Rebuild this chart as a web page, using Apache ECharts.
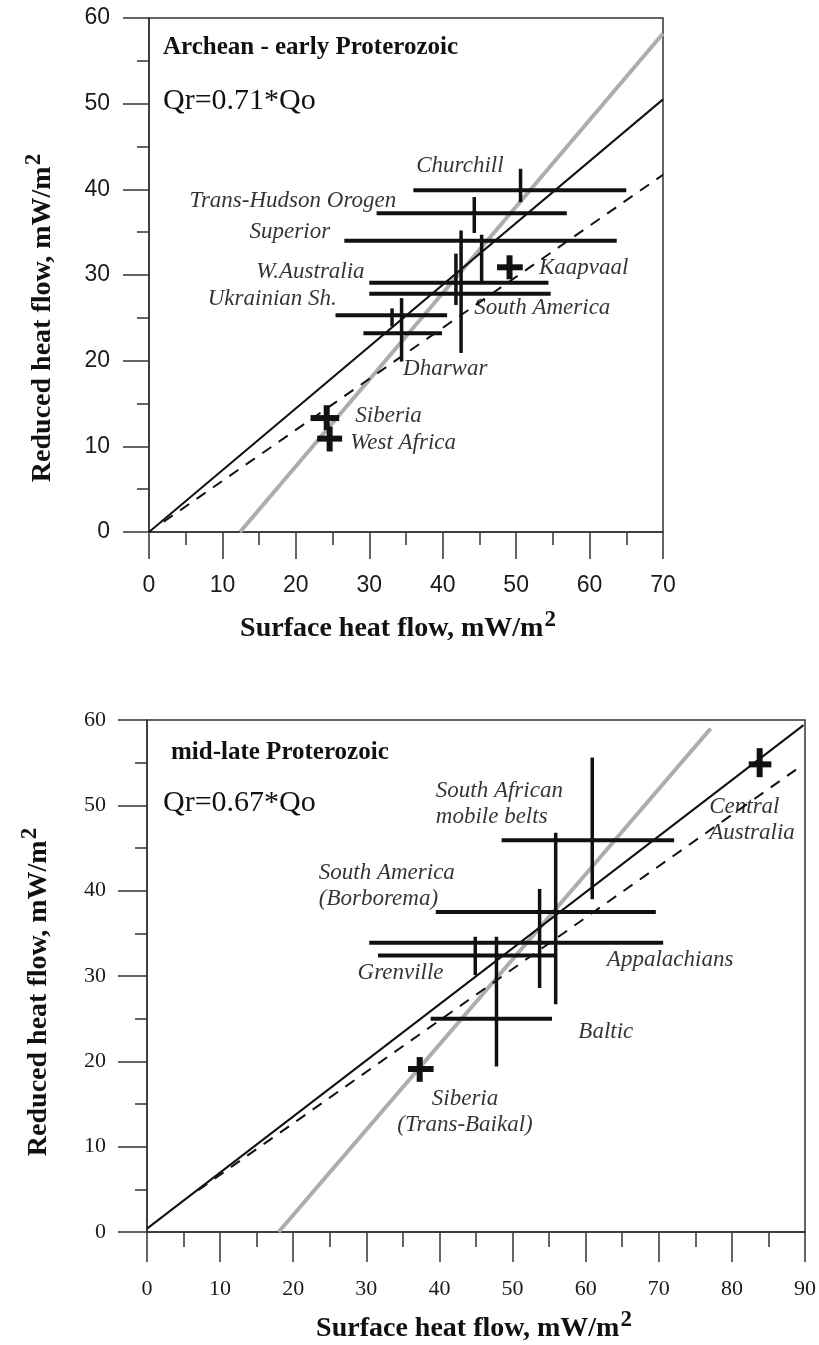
<!DOCTYPE html>
<html>
<head>
<meta charset="utf-8">
<title>Reduced vs surface heat flow</title>
<script src="https://cdn.jsdelivr.net/npm/echarts/dist/echarts.min.js"></script>
<style>
  html, body { margin: 0; padding: 0; background: #fff; }
  #chart { width: 819px; height: 1345px; }
</style>
</head>
<body>
<div id="chart"></div>
<script>
// ---- upper panel: Archean - early Proterozoic ----
var upNames   = ['Churchill', 'Trans-Hudson Orogen', 'Superior', 'W.Australia', 'South America', 'Kaapvaal', 'Ukrainian Sh.', 'Dharwar', 'Siberia', 'West Africa'];
var upQo      = [50.6, 44.3, 45.3, 41.8, 42.5, 49.1, 33.1, 34.4, 24.2, 24.6];
var upQr      = [39.9, 37.2, 34.0, 29.1, 27.8, 30.9, 25.3, 23.2, 13.3, 10.9];
var upQoMin   = [36.0, 31.0, 26.6, 30.0, 30.0, 47.4, 25.4, 29.2, 22.0, 22.9];
var upQoMax   = [65.0, 56.9, 63.7, 54.4, 54.7, 50.9, 40.6, 39.9, 25.9, 26.3];
var upQrMin   = [38.5, 34.9, 29.2, 26.5, 20.9, 29.5, 24.0, 19.9, 11.9, 9.4];
var upQrMax   = [42.4, 39.1, 34.7, 32.5, 35.2, 32.3, 26.1, 27.3, 14.8, 12.3];
// where each name is written (data units)
var upLabelQo = [36.4, 5.5, 13.7, 14.6, 44.3, 53.1, 8.0, 34.6, 28.1, 27.4];
var upLabelQr = [42.7, 38.6, 35.0, 30.4, 26.1, 30.8, 27.2, 19.0, 13.5, 10.4];
var upGray = [[12.4, 0], [70, 58.2]];   // Qr = Qo - const
var upFit  = [[0, 0], [70, 50.5]];      // Qr = 0.71*Qo
var upDash = [[2, 1.2], [70, 41.7]];

// ---- lower panel: mid-late Proterozoic ----
var loNames   = ['Central\nAustralia', 'South African\nmobile belts', 'South America\n(Borborema)', 'Appalachians', 'Grenville', 'Baltic', 'Siberia\n(Trans-Baikal)'];
var loQo      = [83.8, 60.9, 55.9, 53.7, 44.9, 47.8, 37.3];
var loQr      = [54.8, 45.9, 37.5, 33.9, 32.4, 25.0, 19.1];
var loQoMin   = [82.3, 48.5, 39.5, 30.4, 31.6, 38.8, 35.7];
var loQoMax   = [85.4, 72.1, 69.6, 70.6, 55.9, 55.4, 39.2];
var loQrMin   = [53.3, 39.0, 26.7, 28.6, 30.1, 19.4, 17.6];
var loQrMax   = [56.7, 55.6, 46.8, 40.2, 34.6, 34.6, 20.5];
var loLabelQo = [76.9, 39.5, 23.5, 62.9, 28.8, 59.0, 43.5];
var loLabelQr = [48.3, 50.2, 40.5, 31.9, 30.4, 23.4, 14.1];
var loGray = [[18, 0], [77.1, 59]];
var loFit  = [[0, 0.4], [89.8, 59.4]];  // Qr = 0.67*Qo
var loDash = [[7, 4.9], [88.8, 54.2]];

var upTicks = [0, 70, 10];
var loTicks = [0, 90, 10];
var qrTicks = [0, 60, 10];

var SERIF = '"Liberation Serif", "Times New Roman", serif';
var SANS = '"Liberation Sans", Arial, sans-serif';
var INK = '#111';

var myChart = echarts.init(document.getElementById('chart'));

function crossData(qo, qr, qoMin, qoMax, qrMin, qrMax) {
    return qo.map(function (v, i) {
        return [v, qr[i], qoMin[i], qoMax[i], qrMin[i], qrMax[i]];
    });
}

function renderCross(params, api) {
    var y = api.value(1), x = api.value(0);
    var l = api.coord([api.value(2), y]);
    var r = api.coord([api.value(3), y]);
    var b = api.coord([x, api.value(4)]);
    var t = api.coord([x, api.value(5)]);
    var small = (api.value(3) - api.value(2)) < 5;
    return {
        type: 'group',
        children: [
            { type: 'line', shape: { x1: l[0], y1: l[1], x2: r[0], y2: r[1] }, style: { stroke: INK, lineWidth: small ? 6 : 4 } },
            { type: 'line', shape: { x1: b[0], y1: b[1], x2: t[0], y2: t[1] }, style: { stroke: INK, lineWidth: small ? 6 : 3.5 } }
        ]
    };
}

function labelData(names, qo, qr) {
    return names.map(function (n, i) {
        var centred = n.indexOf('Trans-Baikal') >= 0;
        return {
            value: [qo[i], qr[i]],
            label: { formatter: n, position: centred ? 'inside' : 'right', distance: 0, align: centred ? 'center' : 'left' }
        };
    });
}

function valueAxis(idx, ticks, font, size, margin, tickLen, minorLen) {
    return {
        type: 'value',
        gridIndex: idx,
        min: ticks[0], max: ticks[1], interval: ticks[2],
        splitLine: { show: false },
        axisLine: { show: true, onZero: false, lineStyle: { color: '#333', width: 1.5 } },
        axisTick: { show: true, inside: false, length: tickLen, lineStyle: { color: '#333', width: 1.5 } },
        minorTick: { show: true, splitNumber: 2, length: minorLen, lineStyle: { color: '#333', width: 1.5 } },
        axisLabel: { color: '#1a1a1a', fontFamily: font, fontSize: size, margin: margin, showMinLabel: true, showMaxLabel: true }
    };
}

function lineSeries(idx, data, color, width, type) {
    return {
        type: 'line', xAxisIndex: idx, yAxisIndex: idx, data: data,
        showSymbol: false, symbol: 'none', silent: true,
        lineStyle: { color: color, width: width, type: type || 'solid' },
        z: 2
    };
}

// axis title with a raised "2" (mW/m2)
function titleText(text, x, y, rot) {
    return {
        type: 'text', x: x, y: y, rotation: rot || 0, z: 10,
        style: {
            text: '{a|' + text + '}{s|2}',
            fill: '#111',
            fontFamily: SERIF, fontWeight: 'bold', fontSize: 28,
            align: 'center', verticalAlign: 'middle',
            rich: {
                a: { fontFamily: SERIF, fontWeight: 'bold', fontSize: 28, lineHeight: 34, verticalAlign: 'bottom', fill: '#111' },
                s: { fontFamily: SERIF, fontWeight: 'bold', fontSize: 23, lineHeight: 23, padding: [0, 0, 11, 1], verticalAlign: 'bottom', fill: '#111' }
            }
        }
    };
}

var labelStyle = { show: true, color: '#000', fontFamily: SERIF, fontStyle: 'italic', fontSize: 23, lineHeight: 26 };

option = {
    animation: false,
    backgroundColor: '#fff',
    grid: [
        { left: 149, top: 18, width: 514, height: 514, show: true, borderColor: '#333', borderWidth: 1.5, backgroundColor: 'transparent' },
        { left: 147, top: 720, width: 662, height: 512, show: true, borderColor: '#333', borderWidth: 1.5, backgroundColor: 'transparent' }
    ],
    xAxis: [
        valueAxis(0, upTicks, SANS, 23, 42, 27, 13),
        valueAxis(1, loTicks, SERIF, 22, 46, 30, 15)
    ],
    yAxis: [
        valueAxis(0, qrTicks, SANS, 23, 39, 26, 12),
        valueAxis(1, qrTicks, SERIF, 22, 41, 29, 12)
    ],
    series: [
        lineSeries(0, upGray, '#adadad', 4),
        lineSeries(0, upFit, INK, 2),
        lineSeries(0, upDash, INK, 2, [11, 9]),
        {
            type: 'custom', xAxisIndex: 0, yAxisIndex: 0, silent: true, z: 3,
            renderItem: renderCross,
            data: crossData(upQo, upQr, upQoMin, upQoMax, upQrMin, upQrMax)
        },
        {
            type: 'scatter', xAxisIndex: 0, yAxisIndex: 0, silent: true, symbolSize: 0, z: 4,
            label: labelStyle,
            data: labelData(upNames, upLabelQo, upLabelQr)
        },
        lineSeries(1, loGray, '#adadad', 4),
        lineSeries(1, loFit, INK, 2),
        lineSeries(1, loDash, INK, 2, [11, 9]),
        {
            type: 'custom', xAxisIndex: 1, yAxisIndex: 1, silent: true, z: 3,
            renderItem: renderCross,
            data: crossData(loQo, loQr, loQoMin, loQoMax, loQrMin, loQrMax)
        },
        {
            type: 'scatter', xAxisIndex: 1, yAxisIndex: 1, silent: true, symbolSize: 0, z: 4,
            label: labelStyle,
            data: labelData(loNames, loLabelQo, loLabelQr)
        }
    ],
    graphic: [
        { type: 'text', left: 163, top: 35, style: { text: 'Archean - early Proterozoic', fill: '#111', fontFamily: SERIF, fontWeight: 'bold', fontSize: 25 } },
        { type: 'text', left: 163, top: 86, style: { text: 'Qr=0.71*Qo', fill: '#111', fontFamily: SERIF, fontSize: 30 } },
        { type: 'text', left: 171, top: 740, style: { text: 'mid-late Proterozoic', fill: '#111', fontFamily: SERIF, fontWeight: 'bold', fontSize: 25 } },
        { type: 'text', left: 163, top: 788, style: { text: 'Qr=0.67*Qo', fill: '#111', fontFamily: SERIF, fontSize: 30 } },
        titleText('Surface heat flow, mW/m', 398, 626),
        titleText('Surface heat flow, mW/m', 474, 1326),
        titleText('Reduced heat flow, mW/m', 40, 318, Math.PI / 2),
        titleText('Reduced heat flow, mW/m', 36, 992, Math.PI / 2)
    ]
};

myChart.setOption(option);
</script>
</body>
</html>
